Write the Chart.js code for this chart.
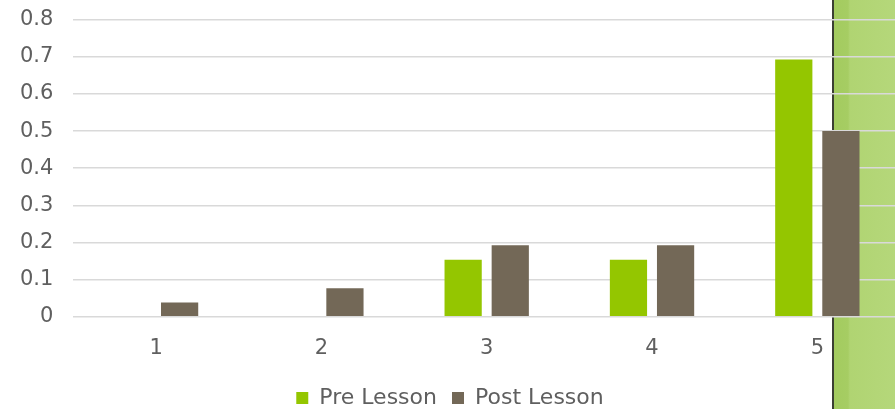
<!DOCTYPE html>
<html>
<head>
<meta charset="utf-8">
<script src="https://cdn.jsdelivr.net/npm/chart.js@4"></script>
<style>
  html, body { margin: 0; padding: 0; width: 895px; height: 409px; overflow: hidden; background: #ffffff; }
  #deco { position: absolute; left: 832px; top: 0; width: 70px; height: 409px;
          background: linear-gradient(90deg, #a3cb5f 0px, #a6cd63 14px, #b0d472 16px, #b6d87c 70px);
          border-left: 2px solid #3b3f33; box-sizing: border-box; }
  #wrap { position: absolute; left: 0; top: -13px; width: 900px; height: 432px; }
</style>
</head>
<body>
<div id="deco"></div>
<div id="wrap"><canvas id="c"></canvas></div>
<script>
const categories = ['1', '2', '3', '4', '5'];
const preLesson = [0, 0, 0.1538, 0.1538, 0.6923];
const postLesson = [0.0385, 0.0769, 0.1923, 0.1923, 0.5];
const seriesNames = ['Pre Lesson', 'Post Lesson'];
const yTickLabels = ['0', '0.1', '0.2', '0.3', '0.4', '0.5', '0.6', '0.7', '0.8'];

const textColor = '#5f5f5f';
const font = { family: 'DejaVu Sans', size: 21 };

new Chart(document.getElementById('c'), {
  type: 'bar',
  data: {
    labels: categories,
    datasets: [
      { label: seriesNames[0], data: preLesson, backgroundColor: '#94c600', borderWidth: 0,
        categoryPercentage: 0.57, barPercentage: 0.79 },
      { label: seriesNames[1], data: postLesson, backgroundColor: '#736857', borderWidth: 0,
        categoryPercentage: 0.57, barPercentage: 0.79 }
    ]
  },
  options: {
    responsive: true,
    maintainAspectRatio: false,
    animation: false,
    layout: { padding: { top: 0, left: 0, right: 0, bottom: 0 } },
    plugins: {
      tooltip: { enabled: false },
      legend: {
        position: 'bottom',
        labels: { color: textColor, font: { family: 'DejaVu Sans', size: 22 }, boxWidth: 12, boxHeight: 12, padding: 15 }
      }
    },
    scales: {
      x: {
        grid: { display: false },
        border: { display: false },
        ticks: { color: textColor, font: font, padding: 11 }
      },
      y: {
        min: 0, max: 0.8,
        grid: { color: '#d9d9d9', lineWidth: 1.5, drawTicks: false },
        border: { display: false },
        ticks: { stepSize: 0.1, color: textColor, font: font, padding: 20,
                 callback: (v, i) => yTickLabels[i] }
      }
    }
  }
});
</script>
</body>
</html>
